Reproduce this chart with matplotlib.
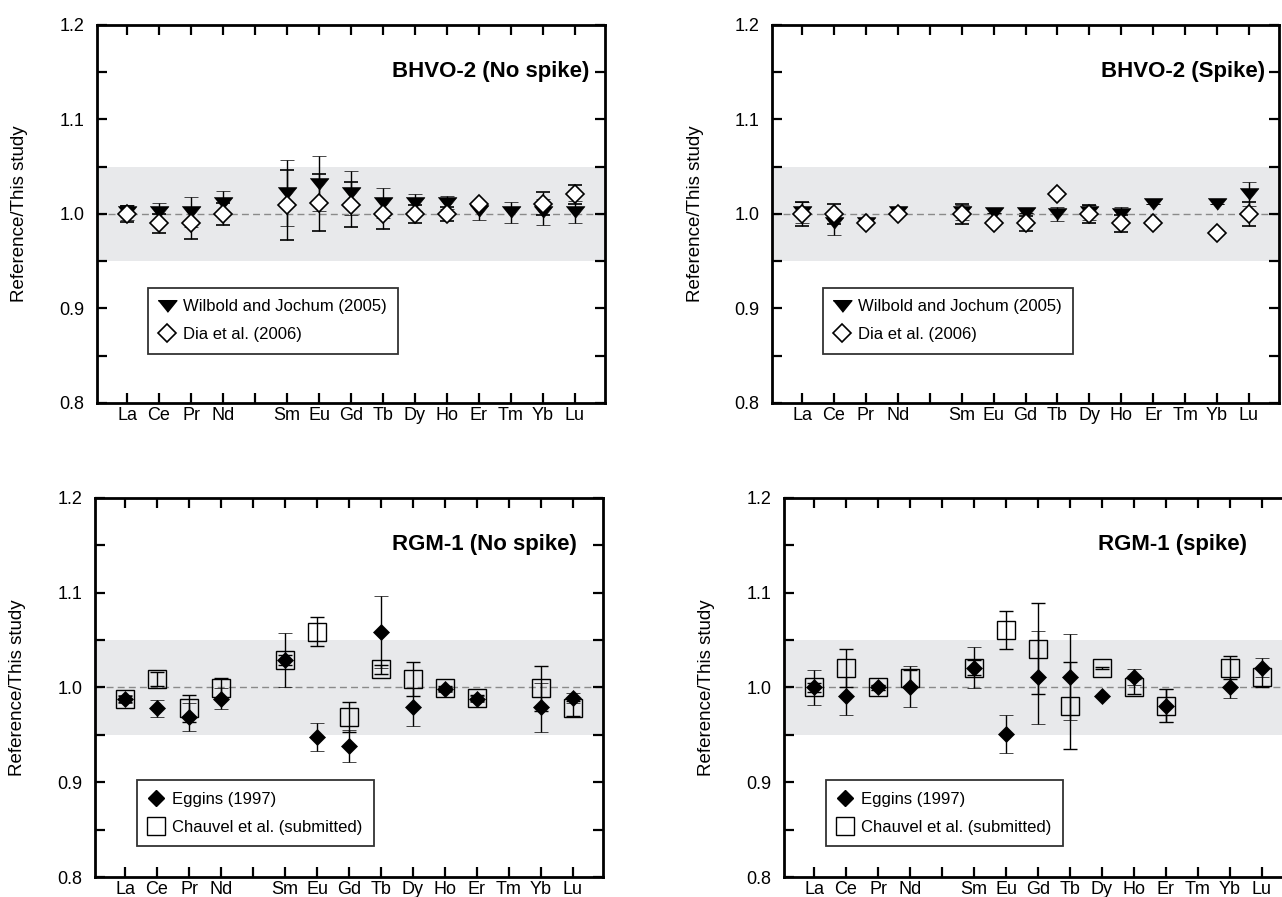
import numpy as np
import matplotlib
matplotlib.use("Agg")
import matplotlib.pyplot as plt
from matplotlib.lines import Line2D

plt.rcParams['font.family'] = ['Liberation Sans', 'DejaVu Sans']

# ---------------- data ----------------
elements = ['La', 'Ce', 'Pr', 'Nd', '', 'Sm', 'Eu', 'Gd', 'Tb', 'Dy', 'Ho', 'Er', 'Tm', 'Yb', 'Lu']
nan = np.nan

# BHVO-2 (No spike)
bhvo_ns_wilbold     = [1.002, 1.002, 1.002, 1.012, nan, 1.022, 1.032, 1.022, 1.012, 1.012, 1.012, 1.003, 1.002, 1.002, 1.002]
bhvo_ns_wilbold_err = [0.008, 0.010, 0.016, 0.012, nan, 0.035, 0.029, 0.023, 0.016, 0.009, 0.007, 0.009, 0.011, 0.014, 0.012]
bhvo_ns_dia         = [1.000, 0.990, 0.990, 1.000, nan, 1.010, 1.012, 1.010, 1.000, 1.000, 1.000, 1.011, nan, 1.011, 1.021]
bhvo_ns_dia_err     = [0.008, 0.010, 0.016, 0.012, nan, 0.037, 0.030, 0.024, 0.016, 0.010, 0.007, 0.000, nan, 0.012, 0.010]

# BHVO-2 (Spike)
bhvo_s_wilbold      = [1.002, 0.990, 0.991, 1.002, nan, 1.002, 1.001, 1.001, 1.000, 1.002, 1.000, 1.011, nan, 1.011, 1.021]
bhvo_s_wilbold_err  = [0.011, 0.012, 0.000, 0.000, nan, 0.008, 0.000, 0.000, 0.007, 0.008, 0.007, 0.000, nan, 0.000, 0.013]
bhvo_s_dia          = [1.000, 1.000, 0.990, 1.000, nan, 1.000, 0.990, 0.990, 1.021, 1.000, 0.990, 0.990, nan, 0.980, 1.000]
bhvo_s_dia_err      = [0.013, 0.011, 0.000, 0.000, nan, 0.011, 0.000, 0.008, 0.000, 0.010, 0.009, 0.000, nan, 0.000, 0.013]

# RGM-1 (No spike)
rgm_ns_eggins       = [0.988, 0.978, 0.969, 0.988, nan, 1.029, 0.948, 0.938, 1.059, 0.979, 0.998, 0.988, nan, 0.979, 0.989]
rgm_ns_eggins_err   = [0.004, 0.009, 0.015, 0.011, nan, 0.028, 0.015, 0.017, 0.038, 0.020, 0.003, 0.003, nan, 0.026, 0.005]
rgm_ns_chauvel      = [0.988, 1.009, 0.978, 0.999, nan, 1.029, 1.059, 0.969, 1.019, 1.009, 0.999, 0.989, nan, 0.999, 0.978]
rgm_ns_chauvel_err  = [0.003, 0.007, 0.014, 0.011, nan, 0.005, 0.015, 0.016, 0.005, 0.018, 0.003, 0.003, nan, 0.024, 0.008]

# RGM-1 (spike)
rgm_s_eggins        = [1.000, 0.991, 1.000, 1.001, nan, 1.021, 0.951, 1.011, 1.011, 0.991, 1.011, 0.981, nan, 1.000, 1.021]
rgm_s_eggins_err    = [0.018, 0.020, 0.003, 0.022, nan, 0.022, 0.020, 0.049, 0.045, 0.000, 0.008, 0.017, nan, 0.011, 0.010]
rgm_s_chauvel       = [1.000, 1.021, 1.000, 1.010, nan, 1.021, 1.061, 1.041, 0.981, 1.021, 1.001, 0.981, nan, 1.021, 1.011]
rgm_s_chauvel_err   = [0.005, 0.020, 0.003, 0.008, nan, 0.008, 0.020, 0.048, 0.046, 0.001, 0.008, 0.017, nan, 0.012, 0.010]

titles = ['BHVO-2 (No spike)', 'BHVO-2 (Spike)', 'RGM-1 (No spike)', 'RGM-1 (spike)']
legend_top = ['Wilbold and Jochum (2005)', 'Dia et al. (2006)']
legend_bot = ['Eggins (1997)', 'Chauvel et al. (submitted)']
ylabel = 'Reference/This study'

# ---------------- styling ----------------
W, H = 1282, 897
fig = plt.figure(figsize=(W / 100, H / 100), dpi=100)

def axpos(x0, x1, ytop, ybot):
    return [x0 / W, 1 - ybot / H, (x1 - x0) / W, (ybot - ytop) / H]

positions = [axpos(97, 605, 25, 403), axpos(772, 1279, 25, 403),
             axpos(95, 603, 498, 877), axpos(784, 1292, 498, 877)]
title_x = [0.97, 0.972, 0.949, 0.911]

xpos = np.arange(1, len(elements) + 1)
tri = [(-1.0, 0.62), (1.0, 0.62), (0.0, -0.62)]

def setup(ax, k):
    ax.set_xlim(0.06, 15.94)
    ax.set_ylim(0.8, 1.2)
    ax.axhspan(0.95, 1.05, color='#e8e9eb', zorder=0, lw=0)
    ax.axhline(1.0, color='#8a8a8a', lw=1.0, ls=(0, (5, 3)), zorder=1)
    ax.set_xticks(xpos)
    ax.set_xticklabels(elements, fontsize=13)
    yt = np.round(np.arange(0.8, 1.2001, 0.05), 2)
    ax.set_yticks(yt)
    ax.set_yticklabels(['%.1f' % v if abs(v * 10 - round(v * 10)) < 1e-6 else '' for v in yt], fontsize=13)
    ax.tick_params(axis='both', direction='in', length=7, width=1.6, top=True, right=True)
    ax.tick_params(axis='y', pad=9)
    ax.tick_params(axis='x', pad=3)
    for s in ax.spines.values():
        s.set_linewidth(2)
    ax.set_ylabel(ylabel, fontsize=13.5)
    ax.yaxis.set_label_coords(-0.135, 0.5)
    ax.text(title_x[k], 0.878, titles[k], transform=ax.transAxes, ha='right', va='center',
            fontsize=16, fontweight='bold')

axes = [fig.add_axes(p) for p in positions]
for k, ax in enumerate(axes):
    setup(ax, k)

eb_kw = dict(ecolor='black', elinewidth=1.0, capsize=5, capthick=1.0, linestyle='none')

def style_legend(leg):
    leg.get_frame().set_edgecolor('black')
    leg.get_frame().set_linewidth(1.3)

leg_kw = dict(loc='upper left', fontsize=12, frameon=True, fancybox=False, handlelength=0.9,
              handletextpad=0.5, borderpad=0.7, labelspacing=0.75, borderaxespad=0)

def plot_top(ax, w, we, d, de):
    ax.errorbar(xpos, w, yerr=we, marker=tri, ms=13.5, mfc='black', mec='black', mew=0.5, zorder=3, **eb_kw)
    ax.errorbar(xpos, d, yerr=de, marker='D', ms=9, mfc='white', mec='black', mew=1.2, zorder=4, **eb_kw)
    h = [Line2D([], [], marker=tri, ms=13.5, color='black', ls='none'),
         Line2D([], [], marker='D', ms=9, mfc='white', mec='black', mew=1.2, ls='none')]
    style_legend(ax.legend(h, legend_top, bbox_to_anchor=(0.10, 0.305), **leg_kw))

def plot_bot(ax, e, ee, c, ce):
    ax.errorbar(xpos, c, yerr=ce, marker='s', ms=12.5, mfc='none', mec='black', mew=1.0, zorder=3, **eb_kw)
    ax.errorbar(xpos, e, yerr=ee, marker='D', ms=8, mfc='black', mec='black', mew=0.5, zorder=4, **eb_kw)
    h = [Line2D([], [], marker='D', ms=8, color='black', ls='none'),
         Line2D([], [], marker='s', ms=12.5, mfc='none', mec='black', mew=1.0, ls='none')]
    style_legend(ax.legend(h, legend_bot, bbox_to_anchor=(0.083, 0.255), **leg_kw))

plot_top(axes[0], bhvo_ns_wilbold, bhvo_ns_wilbold_err, bhvo_ns_dia, bhvo_ns_dia_err)
plot_top(axes[1], bhvo_s_wilbold, bhvo_s_wilbold_err, bhvo_s_dia, bhvo_s_dia_err)
plot_bot(axes[2], rgm_ns_eggins, rgm_ns_eggins_err, rgm_ns_chauvel, rgm_ns_chauvel_err)
plot_bot(axes[3], rgm_s_eggins, rgm_s_eggins_err, rgm_s_chauvel, rgm_s_chauvel_err)

fig.savefig('out.png', dpi=100)
